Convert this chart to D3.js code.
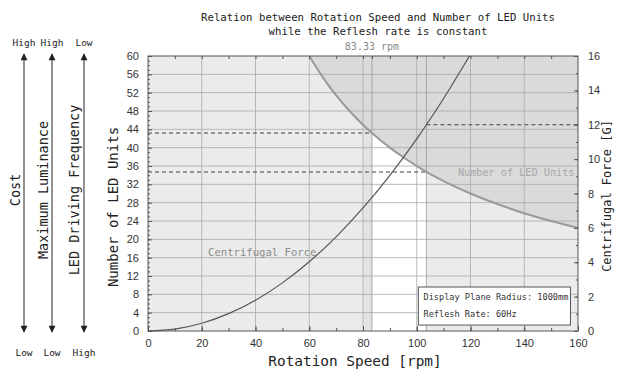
<!DOCTYPE html>
<html>
<head>
<meta charset="utf-8">
<script src="https://cdn.jsdelivr.net/npm/d3@7"></script>
<style>
  body { margin: 0; background: #fff; }
  svg text { font-family: 'DejaVu Sans Mono', 'Liberation Mono', monospace; }
  .tick text { font-family: 'Liberation Sans Narrow', 'Liberation Sans', sans-serif; font-size: 11px; fill: #333; }
  .axis path { display: none; }
  .axis line { stroke: #555; }
</style>
</head>
<body>
<div id="chart"></div>
<script>
// rotation speed [rpm] vs number of LED units
var ledRpm   = [60, 65, 70, 75, 80, 83.33, 90, 95, 100, 103.6, 110, 120, 130, 140, 150, 160];
var ledUnits = [60, 55.4, 51.4, 48, 45, 43.2, 40, 37.9, 36, 34.7, 32.7, 30, 27.7, 25.7, 24, 22.5];

// rotation speed [rpm] vs centrifugal force [G]
var forceRpm = [0, 10, 20, 30, 40, 50, 60, 70, 80, 90, 100, 103.6, 110, 119.6];
var forceG   = [0, 0.11, 0.45, 1.01, 1.79, 2.8, 4.03, 5.48, 7.16, 9.06, 11.18, 12, 13.53, 16];

var speedLow = 83.33, speedHigh = 103.6;
var unitsAtLow = 43.2, unitsAtHigh = 34.7, forceAtHigh = 12;

var xTicks = [0, 20, 40, 60, 80, 100, 120, 140, 160];
var leftTicks = d3.range(0, 61, 4);
var rightTicks = d3.range(0, 17, 2);

var width = 621, height = 370;
var margin = { top: 56, right: 43, bottom: 39, left: 148 };

var svg = d3.select('#chart').append('svg')
  .attr('width', width)
  .attr('height', height);

var x = d3.scaleLinear().domain([0, 160]).range([margin.left, width - margin.right]);
var yL = d3.scaleLinear().domain([0, 60]).range([height - margin.bottom, margin.top]);
var yR = d3.scaleLinear().domain([0, 16]).range([height - margin.bottom, margin.top]);

var x0 = x(0), x1 = x(160), yTop = yL(60), yBot = yL(0);

// background zones
svg.append('rect').attr('x', x0).attr('y', yTop)
  .attr('width', x1 - x0).attr('height', yBot - yTop).attr('fill', '#ebebeb');
svg.append('rect').attr('x', x(80.5)).attr('y', yTop)
  .attr('width', x(speedLow) - x(80.5)).attr('height', yBot - yTop).attr('fill', '#e3e3e3');
svg.append('rect').attr('x', x(speedLow)).attr('y', yTop)
  .attr('width', x(speedHigh) - x(speedLow)).attr('height', yBot - yTop).attr('fill', '#fff');

var ledPts = ledRpm.map(function (d, i) { return { x: d, y: ledUnits[i] }; });
var forcePts = forceRpm.map(function (d, i) { return { x: d, y: forceG[i] }; });

// area above the LED curve
svg.append('path')
  .datum(ledPts)
  .attr('fill', '#dadada')
  .attr('d', d3.area()
    .curve(d3.curveMonotoneX)
    .x(function (d) { return x(d.x); })
    .y0(yTop)
    .y1(function (d) { return yL(d.y); }));

// grid
var grid = svg.append('g').attr('stroke', '#a8a8a8').attr('stroke-width', 0.8);
grid.selectAll('.h').data(leftTicks.slice(1, -1)).enter().append('line')
  .attr('x1', x0).attr('x2', x1)
  .attr('y1', function (d) { return yL(d); })
  .attr('y2', function (d) { return yL(d); });
grid.selectAll('.v').data(xTicks.slice(1, -1)).enter().append('line')
  .attr('y1', yTop).attr('y2', yBot)
  .attr('x1', function (d) { return x(d); })
  .attr('x2', function (d) { return x(d); });

// zone borders
svg.selectAll('.zone').data([speedLow, speedHigh]).enter().append('line')
  .attr('stroke', '#999').attr('stroke-width', 0.8)
  .attr('y1', yTop).attr('y2', yBot)
  .attr('x1', function (d) { return x(d); })
  .attr('x2', function (d) { return x(d); });

// dashed guides
var dash = svg.append('g').attr('stroke', '#444').attr('stroke-width', 1.1)
  .attr('stroke-dasharray', '4,3');
dash.append('line').attr('x1', x0).attr('x2', x(speedLow))
  .attr('y1', yL(unitsAtLow)).attr('y2', yL(unitsAtLow));
dash.append('line').attr('x1', x0).attr('x2', x(speedHigh))
  .attr('y1', yL(unitsAtHigh)).attr('y2', yL(unitsAtHigh));
dash.append('line').attr('x1', x(speedHigh)).attr('x2', x1)
  .attr('y1', yR(forceAtHigh)).attr('y2', yR(forceAtHigh));

// curves
svg.append('path')
  .datum(ledPts)
  .attr('fill', 'none').attr('stroke', '#9a9a9a').attr('stroke-width', 2)
  .attr('d', d3.line().curve(d3.curveMonotoneX)
    .x(function (d) { return x(d.x); })
    .y(function (d) { return yL(d.y); }));

svg.append('path')
  .datum(forcePts)
  .attr('fill', 'none').attr('stroke', '#555').attr('stroke-width', 1.2)
  .attr('d', d3.line().curve(d3.curveMonotoneX)
    .x(function (d) { return x(d.x); })
    .y(function (d) { return yR(d.y); }));

// curve labels
svg.append('text').attr('x', x(42.5)).attr('y', yL(16.3))
  .attr('text-anchor', 'middle').attr('font-size', 10.6).attr('fill', '#8a8a8a')
  .text('Centrifugal Force');
svg.append('text').attr('x', x(137)).attr('y', yL(33.8))
  .attr('text-anchor', 'middle').attr('font-size', 10.2).attr('fill', '#a8a8a8')
  .text('Number of LED Units');

// info box
var box = svg.append('g');
box.append('rect').attr('x', x(100.6)).attr('y', yL(9.6))
  .attr('width', x(157.2) - x(100.6)).attr('height', yL(1.3) - yL(9.6))
  .attr('fill', '#fff').attr('stroke', '#555').attr('stroke-width', 1);
box.append('text').attr('x', x(102.5)).attr('y', yL(6.8))
  .attr('font-size', 8.6).attr('fill', '#333').text('Display Plane Radius: 1000mm');
box.append('text').attr('x', x(102.5)).attr('y', yL(3.1))
  .attr('font-size', 8.6).attr('fill', '#333').text('Reflesh Rate: 60Hz');

// frame
svg.append('rect').attr('x', x0).attr('y', yTop)
  .attr('width', x1 - x0).attr('height', yBot - yTop)
  .attr('fill', 'none').attr('stroke', '#555').attr('stroke-width', 1);

// axes (ticks point inward)
svg.append('g').attr('class', 'axis')
  .attr('transform', 'translate(' + x0 + ',0)')
  .call(d3.axisLeft(yL).tickValues(d3.range(0, 61, 1)).tickSize(-2).tickFormat(''));
svg.append('g').attr('class', 'axis')
  .attr('transform', 'translate(' + x0 + ',0)')
  .call(d3.axisLeft(yL).tickValues(leftTicks).tickSize(-4).tickPadding(9));

svg.append('g').attr('class', 'axis')
  .attr('transform', 'translate(' + x1 + ',0)')
  .call(d3.axisRight(yR).tickValues(d3.range(0, 17, 1)).tickSize(-2).tickFormat(''));
svg.append('g').attr('class', 'axis')
  .attr('transform', 'translate(' + x1 + ',0)')
  .call(d3.axisRight(yR).tickValues(rightTicks).tickSize(-4).tickPadding(10));

svg.append('g').attr('class', 'axis')
  .attr('transform', 'translate(0,' + yBot + ')')
  .call(d3.axisBottom(x).tickValues(d3.range(0, 161, 10)).tickSize(-3).tickFormat(''));
svg.append('g').attr('class', 'axis')
  .attr('transform', 'translate(0,' + yBot + ')')
  .call(d3.axisBottom(x).tickValues(xTicks).tickSize(-5).tickPadding(8));

svg.append('g').attr('class', 'axis')
  .attr('transform', 'translate(0,' + yTop + ')')
  .call(d3.axisTop(x).tickValues(d3.range(10, 160, 10).concat([speedLow])).tickSize(-3).tickFormat(''));

// titles
svg.append('text').attr('x', 378).attr('y', 21)
  .attr('text-anchor', 'middle').attr('font-size', 10.7).attr('fill', '#222')
  .text('Relation between Rotation Speed and Number of LED Units');
svg.append('text').attr('x', 378).attr('y', 35)
  .attr('text-anchor', 'middle').attr('font-size', 10.7).attr('fill', '#222')
  .text('while the Reflesh rate is constant');
svg.append('text').attr('x', x(speedLow)).attr('y', 50)
  .attr('text-anchor', 'middle').attr('font-size', 10).attr('fill', '#888')
  .text('83.33 rpm');

svg.append('text').attr('x', 355).attr('y', 366)
  .attr('text-anchor', 'middle').attr('font-size', 14.4).attr('fill', '#222')
  .text('Rotation Speed [rpm]');
svg.append('text')
  .attr('transform', 'translate(118,' + 207 + ') rotate(-90)')
  .attr('text-anchor', 'middle').attr('font-size', 14).attr('fill', '#222')
  .text('Number of LED Units');
svg.append('text')
  .attr('transform', 'translate(611,' + 196 + ') rotate(-90)')
  .attr('text-anchor', 'middle').attr('font-size', 12).attr('fill', '#222')
  .text('Centrifugal Force [G]');

// trade-off arrows on the left
var sideNames = ['Cost', 'Maximum Luminance', 'LED Driving Frequency'];
var sideTop = ['High', 'High', 'Low'];
var sideBottom = ['Low', 'Low', 'High'];
var arrowX = [24, 52, 84];
var labelX = [20, 48, 79];

var defs = svg.append('defs');
defs.append('marker').attr('id', 'head')
  .attr('viewBox', '0 0 10 10').attr('refX', 9).attr('refY', 5)
  .attr('markerWidth', 8).attr('markerHeight', 7)
  .attr('markerUnits', 'userSpaceOnUse')
  .attr('orient', 'auto-start-reverse')
  .append('path').attr('d', 'M0,0 L10,5 L0,10 z').attr('fill', '#222');

var side = svg.append('g');
side.selectAll('line').data(arrowX).enter().append('line')
  .attr('x1', function (d) { return d; }).attr('x2', function (d) { return d; })
  .attr('y1', 54).attr('y2', 332)
  .attr('stroke', '#777').attr('stroke-width', 1.6)
  .attr('marker-start', 'url(#head)').attr('marker-end', 'url(#head)');
side.selectAll('.name').data(sideNames).enter().append('text')
  .attr('transform', function (d, i) { return 'translate(' + labelX[i] + ',190) rotate(-90)'; })
  .attr('text-anchor', 'middle').attr('font-size', 13.5).attr('fill', '#222')
  .text(function (d) { return d; });
side.selectAll('.top').data(sideTop).enter().append('text')
  .attr('x', function (d, i) { return arrowX[i]; }).attr('y', 46)
  .attr('text-anchor', 'middle').attr('font-size', 9.5).attr('fill', '#222')
  .text(function (d) { return d; });
side.selectAll('.bot').data(sideBottom).enter().append('text')
  .attr('x', function (d, i) { return arrowX[i]; }).attr('y', 356)
  .attr('text-anchor', 'middle').attr('font-size', 9.5).attr('fill', '#222')
  .text(function (d) { return d; });
</script>
</body>
</html>
